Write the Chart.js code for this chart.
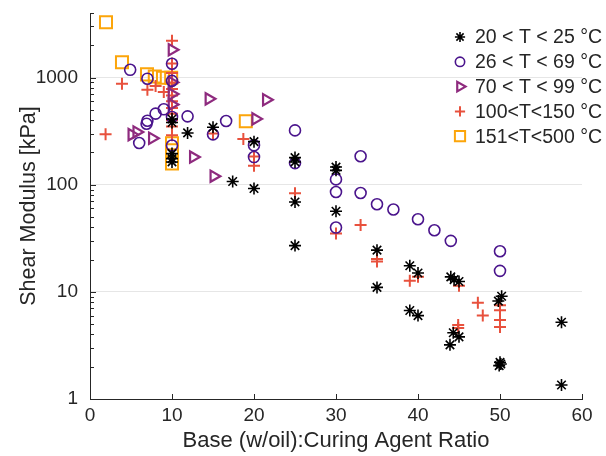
<!DOCTYPE html>
<html>
<head>
<meta charset="utf-8">
<script src="https://cdn.jsdelivr.net/npm/chart.js@4.4.1/dist/chart.umd.min.js"></script>
<style>
    html, body { margin: 0; padding: 0; background: #fff; }
</style>
</head>
<body>
<canvas id="myChart" width="606" height="456"></canvas>
<script>
// series labels (legend)
var labels = ['20 < T < 25 °C', '26 < T < 69 °C', '70 < T < 99 °C', '100<T<150 °C', '151<T<500 °C'];

// 20 < T < 25
var t20x = [10, 10, 10, 10, 10, 11.9, 15, 17.4, 20, 20, 25, 25, 25, 25, 30, 30, 30, 35, 35, 39, 39, 40, 40,
            44, 44.4, 45, 44.3, 45, 43.9, 50.2, 49.8, 50, 50.1, 49.9, 57.5, 57.5];
var t20y = [410, 380, 195, 175, 163, 304, 343, 107, 252, 92, 179, 163, 69, 27, 146, 136, 56.5, 24.5, 11, 17.5, 6.7, 15, 6,
            13.8, 13, 12.5, 4.15, 3.8, 3.2, 9.1, 8.2, 2.2, 2.12, 2.05, 5.2, 1.35];

// 26 < T < 69
var t26x = [4.9, 7.0, 10, 10, 10, 10, 9.0, 8.0, 7.0, 6.9, 6.0, 11.9, 16.6, 15, 20, 20, 25, 25, 30, 30, 30, 33, 33, 35, 37, 40, 42, 44, 50, 50];
var t26y = [1180, 975, 1345, 930, 428, 232, 505, 460, 395, 370, 245, 434, 393, 295, 233, 181, 321, 159, 112, 85.5, 39.8, 184, 83.7, 65.7, 58.6, 47.6, 37.6, 29.9, 23.9, 15.7];

// 70 < T < 99
var t70x = [10, 10, 10, 10, 14.5, 21.5, 20.2, 5.1, 5.7, 7.6, 12.6, 15.1];
var t70y = [1816, 900, 700, 560, 632, 620, 411, 293, 310, 271, 181, 120];

// 100 < T < 150
var t100x = [1.9, 3.9, 7.0, 8.0, 9.0, 10, 10, 10, 10, 10, 10, 10, 10, 10, 10, 10, 10,
             15, 18.7, 20, 20, 25, 30, 33, 35, 35, 39, 40, 45, 44.9, 44.9, 47.3, 47.9, 50, 50, 50, 50];
var t100y = [295, 875, 769, 832, 731, 2200, 1350, 1100, 900, 780, 680, 600, 520, 460, 400, 350, 290,
             300, 267, 183, 150, 83, 35, 42, 19.2, 20.3, 12.7, 13.8, 11.4, 4.6, 4.9, 7.9, 6.0, 7.5, 6.75, 5.45, 4.7];

// 151 < T < 500
var t151x = [1.95, 3.9, 6.95, 7.9, 8.9, 9.9, 19.0, 10, 10, 10];
var t151y = [3280, 1390, 1070, 1021, 993, 993, 391, 243, 209, 158];

// axis
var xTicks = [0, 10, 20, 30, 40, 50, 60];
var yMin = 1, yMax = 4000;

var ink = '#262626';
var fontName = "'Liberation Sans', Arial, sans-serif";

function pts(xs, ys) {
    return xs.map(function(x, i) { return { x: x, y: ys[i] }; });
}

function isDecade(v) {
    var l = Math.log10(v);
    return Math.abs(l - Math.round(l)) < 1e-9;
}

// 1..9 times a power of ten
function isWhole(v) {
    var m = v / Math.pow(10, Math.floor(Math.log10(v) + 1e-9));
    return Math.abs(m - Math.round(m)) < 1e-6;
}

var styles = [
    { pointStyle: 'star', radius: 6, color: '#000000', width: 1.6, rotation: 0 },
    { pointStyle: 'circle', radius: 5.5, color: '#4a148c', width: 1.6, rotation: 0 },
    { pointStyle: 'triangle', radius: 6.5, color: '#8e2a7e', width: 2.2, rotation: 90 },
    { pointStyle: 'cross', radius: 6, color: '#e8513d', width: 2, rotation: 0 },
    { pointStyle: 'rect', radius: 8.5, color: '#fca50a', width: 2, rotation: 0 }
];

var allData = [pts(t20x, t20y), pts(t26x, t26y), pts(t70x, t70y), pts(t100x, t100y), pts(t151x, t151y)];

var datasets = allData.map(function(d, i) {
    var s = styles[i];
    return {
        label: labels[i],
        data: d,
        pointStyle: s.pointStyle,
        pointRadius: s.radius,
        pointHoverRadius: s.radius,
        pointRotation: s.rotation,
        pointBorderColor: s.color,
        pointBackgroundColor: 'rgba(0,0,0,0)',
        pointBorderWidth: s.width,
        borderColor: s.color,
        backgroundColor: 'rgba(0,0,0,0)',
        showLine: false
    };
});

// inward tick marks + legend in the top right corner
var extras = {
    id: 'extras',
    afterDraw: function(chart) {
        var ctx = chart.ctx, xs = chart.scales.x, ys = chart.scales.y, area = chart.chartArea;
        ctx.save();
        ctx.strokeStyle = ink;
        ctx.lineWidth = 1;
        ctx.beginPath();
        xs.ticks.forEach(function(t) {
            var px = Math.round(xs.getPixelForValue(t.value)) + 0.5;
            ctx.moveTo(px, area.bottom);
            ctx.lineTo(px, area.bottom - 5);
        });
        ys.ticks.forEach(function(t) {
            if (!isWhole(t.value)) return;
            var py = Math.round(ys.getPixelForValue(t.value)) + 0.5;
            ctx.moveTo(area.left, py);
            ctx.lineTo(area.left + (isDecade(t.value) ? 6 : 4), py);
        });
        ctx.stroke();

        var lx = 460, tx = 475, ly = 37, step = 24.8;
        ctx.font = '19.5px ' + fontName;
        ctx.textBaseline = 'middle';
        ctx.textAlign = 'left';
        labels.forEach(function(lab, i) {
            var s = styles[i], y = ly + i * step;
            ctx.strokeStyle = s.color;
            ctx.fillStyle = 'rgba(0,0,0,0)';
            ctx.lineWidth = s.width;
            Chart.helpers.drawPoint(ctx, {
                pointStyle: s.pointStyle,
                rotation: s.rotation,
                radius: s.radius * 0.85,
                borderWidth: s.width
            }, lx, y);
            ctx.fillStyle = ink;
            ctx.fillText(lab, tx, y + 1);
        });
        ctx.restore();
    }
};

var ctx = document.getElementById('myChart').getContext('2d');
var chart = new Chart(ctx, {
    type: 'scatter',
    data: { datasets: datasets },
    plugins: [extras],
    options: {
        responsive: false,
        devicePixelRatio: 1,
        animation: false,
        layout: { autoPadding: false, padding: { left: 0, right: 24, top: 13, bottom: 0 } },
        plugins: {
            legend: { display: false },
            tooltip: { enabled: false }
        },
        scales: {
            x: {
                type: 'linear',
                min: xTicks[0],
                max: xTicks[xTicks.length - 1],
                afterFit: function(s) {
                    s.height = 57;
                    s.paddingLeft = 0; s.paddingRight = 0; s.paddingTop = 0; s.paddingBottom = 0;
                },
                afterBuildTicks: function(s) {
                    s.ticks = xTicks.map(function(v) { return { value: v }; });
                },
                grid: { display: false },
                border: { display: true, color: ink, width: 1 },
                ticks: {
                    color: ink,
                    padding: -3,
                    maxRotation: 0,
                    autoSkip: false,
                    font: { family: fontName, size: 19 }
                },
                title: {
                    display: true,
                    text: 'Base (w/oil):Curing Agent Ratio',
                    color: ink,
                    padding: { top: 0, bottom: 2 },
                    font: { family: fontName, size: 22 }
                }
            },
            y: {
                type: 'logarithmic',
                min: yMin,
                max: yMax,
                afterFit: function(s) {
                    s.width = 90;
                    s.paddingLeft = 0; s.paddingRight = 0; s.paddingTop = 0; s.paddingBottom = 0;
                },
                grid: {
                    drawTicks: false,
                    color: function(c) {
                        return c.tick && c.tick.value > 1 && isDecade(c.tick.value) ? '#e6e6e6' : 'rgba(0,0,0,0)';
                    }
                },
                border: { display: true, color: ink, width: 1 },
                ticks: {
                    color: ink,
                    padding: 12,
                    autoSkip: false,
                    font: { family: fontName, size: 19 },
                    callback: function(v) { return isDecade(v) ? String(v) : ''; }
                },
                title: {
                    display: true,
                    text: 'Shear Modulus [kPa]',
                    color: ink,
                    padding: { top: 16, bottom: 0 },
                    font: { family: fontName, size: 21.5 }
                }
            }
        }
    }
});
console.log(JSON.stringify(chart.chartArea));
</script>
</body>
</html>
